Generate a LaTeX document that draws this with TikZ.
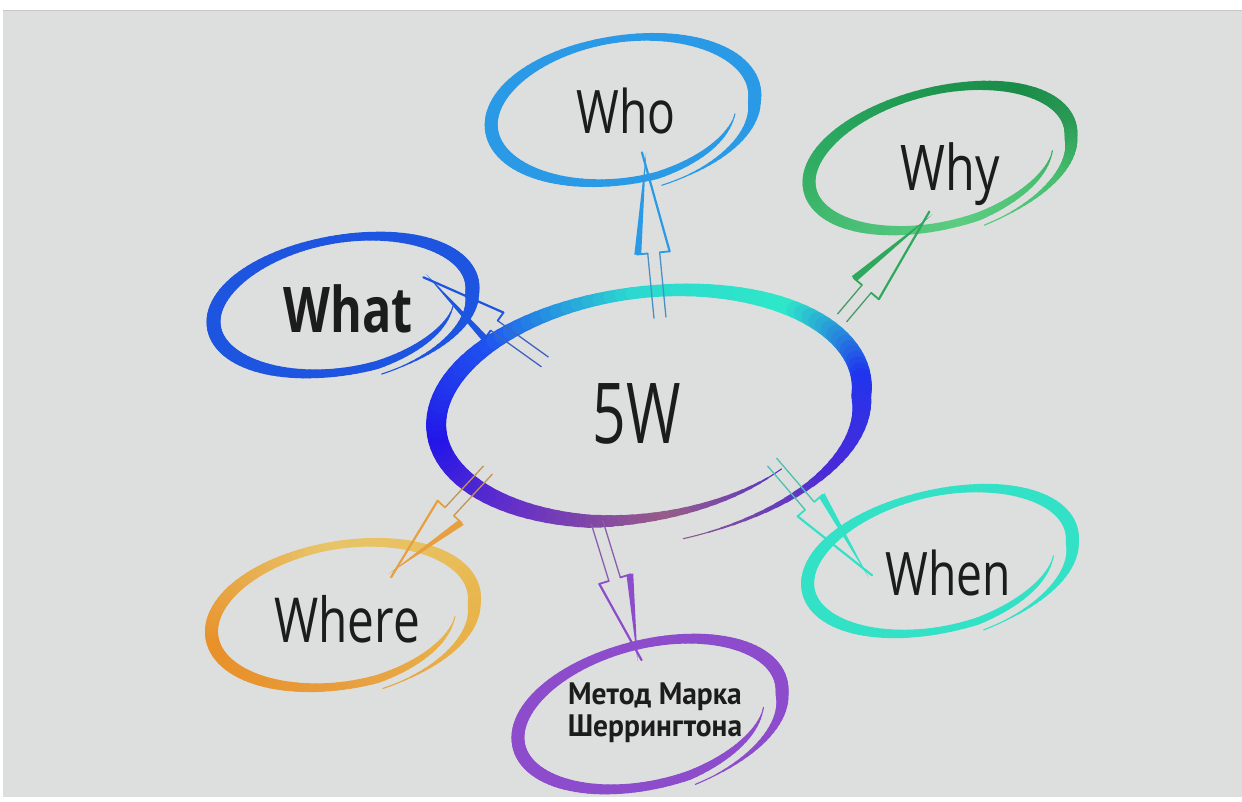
\documentclass[tikz,border=0pt]{standalone}
\usepackage{fontspec}
\usepackage{graphicx}
\setmainfont{Open Sans}
\newfontfamily\ptsans{PT Sans}
\definecolor{bgc}{RGB}{221,223,222}
\definecolor{txtc}{RGB}{28,28,28}
\definecolor{whoc}{HTML}{2A9AE6}
\definecolor{whatc}{HTML}{1E55E0}
\definecolor{whyc}{HTML}{2EA85C}
\definecolor{wherec}{HTML}{E6A040}
\definecolor{whenc}{HTML}{33E2C6}
\definecolor{methc}{HTML}{8C4CCC}

\pgfkeys{/bell/.is family, /bell/.cd,
 cx/.store in=\bEcx, cy/.store in=\bEcy, a/.store in=\bEa, b/.store in=\bEb,
 rot/.store in=\bErot, t0/.store in=\bEtz, sweep/.store in=\bEsw,
 d0/.store in=\bEdz, d1/.store in=\bEdo, ta/.store in=\bEta, tb/.store in=\bEtb,
 wv/.store in=\bEwv, wh/.store in=\bEwh, dt/.store in=\bEdt}

\newcommand\bcols[8]{\definecolor{bc0}{HTML}{#1}\definecolor{bc1}{HTML}{#2}\definecolor{bc2}{HTML}{#3}\definecolor{bc3}{HTML}{#4}%
 \definecolor{bc4}{HTML}{#5}\definecolor{bc5}{HTML}{#6}\definecolor{bc6}{HTML}{#7}\definecolor{bc7}{HTML}{#8}}
\newcommand\bcolsame[1]{\bcols{#1}{#1}{#1}{#1}{#1}{#1}{#1}{#1}}

\newcommand\brushell[1]{%
 \pgfkeys{/bell/.cd, t0=20, sweep=420, d0=0.12, d1=0.15, ta=60, tb=70, dt=3, rot=0, #1}%
 \begin{scope}[shift={(\bEcx,\bEcy)}, rotate=\bErot]
 \pgfmathtruncatemacro\bEN{\bEsw/\bEdt}%
 \foreach \bEi in {1,...,\bEN}{%
   \pgfmathsetmacro\bEtA{\bEtz+(\bEi-1)*\bEdt}%
   \pgfmathsetmacro\bEtB{\bEtA+\bEdt}%
   \pgfmathsetmacro\bEtM{\bEtA+0.5*\bEdt}%
   \pgfmathsetmacro\bEsA{1-\bEdz*max(0,1-(\bEtA-\bEtz)/\bEta)+\bEdo*max(0,1-(\bEtz+\bEsw-\bEtA)/\bEtb)}%
   \pgfmathsetmacro\bEsB{1-\bEdz*max(0,1-(\bEtB-\bEtz)/\bEta)+\bEdo*max(0,1-(\bEtz+\bEsw-\bEtB)/\bEtb)}%
   \pgfmathsetmacro\bEpxA{\bEa*\bEsA*cos(\bEtA)}\pgfmathsetmacro\bEpyA{\bEb*\bEsA*sin(\bEtA)}%
   \pgfmathsetmacro\bEpxB{\bEa*\bEsB*cos(\bEtB)}\pgfmathsetmacro\bEpyB{\bEb*\bEsB*sin(\bEtB)}%
   \pgfmathsetmacro\bEtp{min(1,min((\bEtM-\bEtz)/\bEta,(\bEtz+\bEsw-\bEtM)/\bEtb))}%
   \pgfmathsetmacro\bEw{max(1.1,sqrt((\bEwv*cos(\bEtM))^2+(\bEwh*sin(\bEtM))^2)*\bEtp)}%
   \pgfmathsetmacro\bEm{mod(\bEtM+720,360)}%
   \pgfmathtruncatemacro\bEq{floor(\bEm/45)}%
   \pgfmathtruncatemacro\bEqn{mod(\bEq+1,8)}%
   \pgfmathtruncatemacro\bEp{round(100*(\bEm-45*\bEq)/45)}%
   \colorlet{bcur}{bc\bEqn!\bEp!bc\bEq}%
   \draw[bcur, line width=\bEw pt, line cap=round] (\bEpxA,\bEpyA) -- (\bEpxB,\bEpyB);
 }%
 \end{scope}}

% hollow brush arrow from coordinate #1 to coordinate #2, colour #3, shaft fraction #4
\newcommand\harrow[4]{%
  \pgfpointdiff{\pgfpointanchor{#1}{center}}{\pgfpointanchor{#2}{center}}%
  \pgfgetlastxy\hAx\hAy
  \pgfmathsetmacro\hAang{atan2(\hAy,\hAx)}%
  \pgfmathsetmacro\hAlen{veclen(\hAx,\hAy)}%
  \pgfmathsetmacro\hAs{#4*\hAlen}%
  \pgfmathsetmacro\hAe{\hAlen+0.12*(\hAlen-\hAs)}%
  \begin{scope}[shift={(#1)}, rotate=\hAang]
    \draw[line width=1.3pt, #3!65!gray] (0,-6) -- (\hAs,-6) (0,6) -- (\hAs,6);
    \draw[line width=1.8pt, #3, line cap=round] (\hAs,-6) -- (\hAs,-17) (\hAs,6) -- (\hAs,16);
    \fill[#3] (\hAs,-19.5) -- (\hAs,-12.5) -- (\hAe,2.2) -- cycle;
    \draw[line width=2.2pt, #3, line cap=round] (\hAs,16) -- (\hAe,-2);
  \end{scope}}

\tikzset{lbl/.style={anchor=base, inner sep=0pt, text=txtc}}

\begin{document}
\begin{tikzpicture}[x=1pt, y=-1pt]
\useasboundingbox (0,0) rectangle (1242,801);
\fill[white] (0,0) rectangle (1242,801);
\fill[bgc] (3,10) rectangle (1242,797);
\draw[line width=1.5pt, black!22] (3,10.5) -- (1242,10.5);

% satellite brush ellipses
\bcolsame{2A9AE6}
\brushell{cx=623, cy=110, a=133, b=71, rot=9, wv=13, wh=7}
\bcolsame{1E55E0}
\brushell{cx=343, cy=305, a=131, b=66, rot=10, wv=14, wh=8}
\bcols{2A9A55}{48C070}{5CCC80}{4CC078}{3AB468}{2AA860}{1F9850}{1A8C48}
\brushell{cx=940, cy=158, a=134, b=67, rot=14, wv=13, wh=8}
\bcols{E8B850}{E8B048}{E8A040}{E89530}{E8902A}{E8A848}{E8C468}{E8C060}
\brushell{cx=343, cy=615, a=133, b=70, rot=10, wv=13, wh=8}
\bcolsame{33E2C6}
\brushell{cx=940, cy=561, a=135, b=68, rot=13, wv=13, wh=7}
\bcolsame{8C4CCC}
\brushell{cx=650, cy=714, a=135, b=70, rot=14, wv=13, wh=9}

% central ellipse
\bcols{1F35EE}{4A2AD8}{985C88}{6530C8}{2215E8}{1F50F0}{2CD8D0}{2EE8C8}
\brushell{cx=649, cy=406, a=214, b=114, rot=7, wv=20, wh=12, t0=50, sweep=398, d0=0.1, d1=0.2, ta=60, tb=80}

% arrow end points
\coordinate (whoS) at (660,318);   \coordinate (whoT) at (645,163);
\coordinate (whyS) at (842,318);   \coordinate (whyT) at (924,221);
\coordinate (whatS) at (545,362);  \coordinate (whatT) at (432,281);
\coordinate (whereS) at (488,470); \coordinate (whereT) at (396,569);
\coordinate (whenS) at (772,462);  \coordinate (whenT) at (864,569);
\coordinate (methS) at (597,522);  \coordinate (methT) at (637,652);

\harrow{whoS}{whoT}{whoc}{0.42}
\harrow{whyS}{whyT}{whyc}{0.3}
\harrow{whatS}{whatT}{whatc}{0.45}
\harrow{whereS}{whereT}{wherec}{0.42}
\harrow{whenS}{whenT}{whenc}{0.41}
\harrow{methS}{methT}{methc}{0.44}

% labels
\node[lbl, font=\fontsize{84}{90}\selectfont] (c5w) at (637,443) {\scalebox{0.7}[1]{5W}};
\node[lbl, font=\fontsize{60}{66}\selectfont] (who) at (626,133) {\scalebox{0.77}[1]{Who}};
\node[lbl, font=\fontsize{63}{69}\selectfont] (why) at (950,190) {\scalebox{0.77}[1]{Why}};
\node[lbl, font=\fontsize{63}{69}\selectfont\bfseries] (what) at (348,332) {\scalebox{0.77}[1]{What}};
\node[lbl, font=\fontsize{62}{68}\selectfont] (where) at (347,642) {\scalebox{0.77}[1]{Where}};
\node[lbl, font=\fontsize{60}{66}\selectfont] (when) at (948,595) {\scalebox{0.77}[1]{When}};
\node[anchor=center, inner sep=0pt, text=txtc, align=center, font=\ptsans\bfseries\fontsize{31}{32}\selectfont] (meth) at (655,713) {\scalebox{0.95}[1]{Метод Марка}\\\scalebox{0.95}[1]{Шеррингтона}};
\end{tikzpicture}
\end{document}
